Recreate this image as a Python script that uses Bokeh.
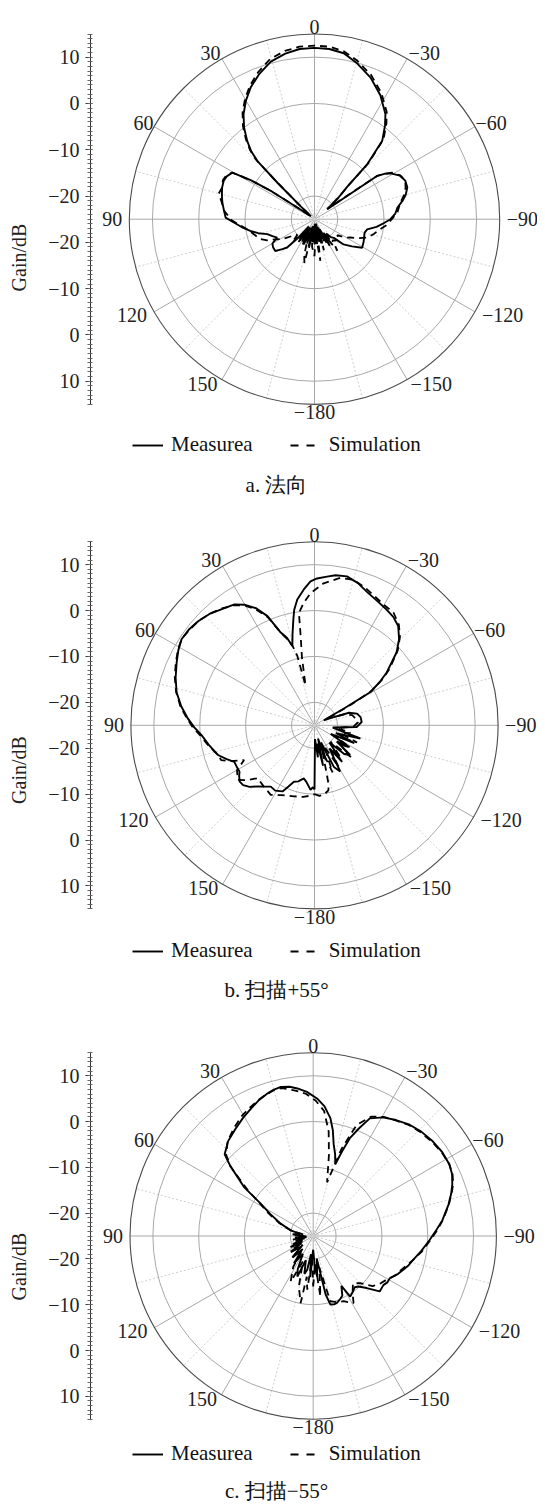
import numpy as np
from bokeh.plotting import figure
from bokeh.layouts import column
from bokeh.models import Range1d, FixedTicker, Legend, LegendItem, Label
from bokeh.core.properties import value
from bokeh.embed import file_html
from bokeh.resources import INLINE

# ---------------- data (angle in degrees, gain in dB) ----------------
A_MEAS_ANG = [-180, -177, -174, -171, -168, -165, -162, -159, -156, -153, -150, -147, -144, -141, -138, -134, -131, -126, -121, -115, -110, -105, -101, -97, -94, -90, -86, -82, -78, -75, -71, -67, -63, -59, -57, -55.4, -54.8, -52, -48, -45.2, -43.8, -40.8, -37, -34, -28, -21.6, -15, -10, -5, 0, 5, 10, 15.5, 21, 25.9, 30, 34, 37.5, 40.7, 43, 44.5, 45.5, 47, 50, 53, 55.5, 57, 58.5, 60.5, 64, 67, 71, 74, 77, 80, 84, 89, 93.7, 97, 100.4, 104, 107.6, 112, 116.3, 120, 124, 129, 133, 136, 139, 142, 145, 148, 151, 154, 157, 160, 163, 166, 169, 172, 175, 178, 180]
A_MEAS_DB = [-19.6, -24, -19.6, -23.5, -20, -24, -19.5, -23, -19.8, -22.5, -18.4, -21.5, -19.5, -21, -19.8, -19.2, -16.7, -15, -13, -13.3, -13.6, -13.8, -13.4, -11.5, -10.3, -8.6, -7.5, -6.9, -5.5, -4.6, -3.8, -3.7, -4.3, -5.8, -7, -8.5, -15, -21.5, -18, -15, -8.5, -2.6, 0.3, 2.4, 5.3, 7.9, 10.0, 11.4, 11.9, 12.0, 11.9, 11.3, 10.3, 8.5, 6.6, 4.6, 2.4, 0.0, -2.7, -5.0, -7.5, -14, -21, -24, -23.5, -21, -14, -9, -4.6, -3.9, -3.7, -3.9, -4.2, -4.5, -4.8, -5.3, -5.8, -8.2, -9.5, -10.9, -12.5, -14.3, -15.2, -16, -14.5, -14.2, -14.1, -15.5, -16.5, -20, -23, -19, -22.5, -19.5, -23, -19.1, -22, -19.5, -23.5, -18.7, -22.5, -20, -23.5, -19.6]

A_SIM_ANG = [-180, -176, -172, -168, -163, -158, -153, -148, -144, -140, -135, -130, -125, -120, -117, -113, -109, -104, -100, -95, -90, -85, -79, -75, -71, -67, -63, -59, -57, -55.4, -54.5, -51.5, -48, -45.2, -43.8, -40.8, -37, -34, -28, -21.6, -15, -10, -5, 0, 5, 10, 15.5, 21, 25.9, 30, 34, 37.5, 40.7, 43, 44.5, 45.5, 47, 50, 53, 55.5, 57, 58.5, 60.5, 64, 67, 71, 75, 79, 85, 91, 98.5, 104, 110, 114, 117, 122, 127, 132, 136.4, 140, 145, 150, 155, 160, 164, 167, 170, 175, 180]
A_SIM_DB = [-17, -22, -15.9, -22, -18, -23, -19, -21, -16.6, -19, -18.5, -18, -19, -17, -16.3, -14.5, -12.9, -11.8, -11, -9.5, -8.3, -7, -6.1, -5, -4.2, -3.7, -4.2, -5.5, -7, -8.5, -15, -21.5, -18, -14.8, -8, -2.2, 0.8, 2.9, 5.8, 8.4, 10.5, 11.8, 12.4, 12.5, 12.4, 11.9, 10.9, 9.0, 7.0, 5.0, 2.8, 0.4, -2.3, -4.6, -7, -14, -21, -24, -23.5, -21, -14, -9, -4.5, -3.7, -3.5, -3.9, -3.6, -4.5, -5.5, -7.2, -10.3, -11.5, -12.5, -13.8, -15.4, -17, -19, -20, -18, -21, -19, -22.5, -19, -21, -17, -15.3, -22, -19, -17]

B_MEAS_ANG = [-180, -178, -174, -171, -168, -165, -162, -159, -155, -150.9, -147, -143, -139, -134, -129.8, -126, -122, -118, -114, -110, -106, -102, -97, -92.3, -86, -80, -74.7, -70, -66, -61.7, -60.3, -59.3, -56.5, -53.8, -48.4, -44.5, -40.1, -36, -31.9, -27, -21.6, -17, -12.3, -8, -4.8, -1, 1.6, 4.5, 7.8, 10, 11.3, 13.5, 15.6, 17.5, 20, 23.3, 26.5, 30.2, 33.5, 37.5, 43, 48.2, 52.5, 57.1, 61, 65.5, 71, 76.5, 82, 87, 91, 95, 101, 107.1, 111, 114.5, 118, 121.7, 124, 127, 130, 133.5, 137, 141, 144.5, 149, 154.2, 157, 160, 164, 168.6, 172, 176.5, 178.5, 180]
B_MEAS_DB = [-11, -22, -18, -21, -16, -22, -17, -21, -15, -13.5, -19, -15, -20, -16, -14.9, -19, -16, -21, -15.5, -20, -14.6, -19, -21, -15.8, -14.7, -14.8, -15.4, -17, -21, -22.7, -17.7, -10.9, -8, -5.5, -1.1, 1.3, 3.3, 4.2, 4.7, 5.3, 6.2, 7.4, 8.2, 8.0, 7.5, 7.0, 6.35, 4.7, 2.65, 0.5, -1.5, -4.5, -7.05, -5.0, -3.5, 0.9, 3.5, 5.4, 6.6, 7.2, 8.3, 9.0, 9.4, 9.5, 8.9, 8.0, 7.0, 5.9, 4.3, 2.6, 1.2, -0.3, -1.7, -3.0, -4.5, -5.8, -5.8, -5.8, -5.2, -4.6, -4.7, -5.5, -6.8, -7.8, -8.6, -8.4, -9.0, -10.5, -11.9, -12.3, -13.2, -12.5, -10.9, -11.5, -11]

B_SIM_ANG = [-180, -176, -172.4, -168, -166.6, -163, -159, -155, -150, -146, -141, -136, -131, -127, -122, -117, -112, -107, -102, -97, -92, -86, -80, -75, -70, -65, -62, -60.5, -59, -56, -53, -48, -44, -40, -35, -30, -25, -20, -15, -9.9, -3.7, 1.7, 5, 7.9, 8.8, 10.5, 12.7, 13.9, 15.5, 18, 20, 23.3, 27, 30.2, 34, 38, 43, 48, 53, 57, 61, 65.5, 71, 76.5, 82, 87, 91, 95, 101, 107, 110.4, 113, 116.3, 120, 125.4, 129, 132.9, 140, 147.8, 155, 163.9, 171, 176, 180]
B_SIM_DB = [-10, -9.6, -9.7, -10.5, -11.7, -19, -14, -20, -14.5, -19, -16, -20, -14.5, -18, -16, -20, -15, -19, -17, -20, -16.5, -15.5, -16, -16.5, -18, -21, -21, -16, -10.5, -7.3, -4.5, -0.6, 1.8, 3.6, 5.0, 5.3, 6.0, 7.0, 7.8, 7.6, 6.0, 3.8, 1.8, -0.27, -5.3, -10, -16.1, -9.4, -7, -5, -3.5, 0.6, 3.4, 5.2, 6.5, 7.4, 8.3, 9.0, 9.3, 9.5, 9.0, 8.2, 7.2, 6.0, 4.5, 2.8, 1.5, 0, -1.5, -3.0, -3.3, -5, -7.9, -5.5, -4.5, -6, -8.1, -7.7, -7.1, -8.2, -8.9, -9.2, -9.6, -10]

C_MEAS_ANG = [-180, -177, -174.4, -171, -168, -166, -163, -160.4, -157, -154, -150.5, -148.6, -145, -141, -138.2, -134.2, -129.8, -125, -122, -118.9, -114, -110.7, -107, -103.6, -98, -92.1, -87, -83.1, -77, -73, -69.6, -66, -62.2, -57, -51.6, -46, -40.9, -35.5, -30.5, -25.7, -23, -20.6, -18.8, -17.1, -15, -12.6, -10.5, -8.3, -5, -1.6, 2.5, 6.1, 9, 12.2, 15, 17.7, 22, 25.9, 30.7, 36, 42, 47.3, 50, 52.2, 54.8, 58.4, 63, 69.2, 75.9, 80, 85, 90, 95, 100, 105, 110, 115.9, 121, 126, 131, 136, 141, 144.9, 150, 155, 158.7, 163, 167, 170, 173, 175.9, 178, 180]
C_MEAS_DB = [-22, -18, -16.1, -20, -12, -9.6, -9.4, -9.5, -10, -10.5, -12.5, -9.5, -10, -10.6, -10.2, -8.7, -6.1, -6.3, -5.9, -5.9, -4.7, -4.05, -3.2, -2.6, -1.2, 0.4, 2.0, 3.4, 5.3, 6.5, 7.4, 8.2, 8.6, 8.6, 8.3, 7.8, 7.15, 6.1, 5.05, 3.5, 0.5, -2.1, -5.5, -8.6, -6.5, -4.5, -1.5, 1.0, 3.4, 5.05, 6.5, 7.4, 8.0, 8.3, 8.1, 7.7, 6.9, 6.0, 5.0, 3.9, 2.8, 1.3, -1.5, -4.2, -6.6, -11.6, -14.5, -17.4, -19.9, -22, -20.5, -23, -21, -23.5, -21, -22.5, -19.5, -22, -19, -21.5, -18.5, -21, -17.7, -20.5, -17, -15.5, -19.5, -16.5, -17.5, -21, -16, -21, -22]

C_SIM_ANG = [-180, -176, -173.2, -169, -165.3, -160, -155, -149, -145, -140, -135.2, -130, -125, -121, -116, -110, -103.6, -98, -92, -87, -83, -77, -73, -69.6, -66, -62, -57, -51.6, -46, -40.9, -35.5, -30.5, -26, -21.4, -18, -14.5, -11, -8.4, -5, -1, 3, 7, 12, 15, 18, 22, 26, 30.7, 36, 42, 47, 50, 52.2, 55, 58.4, 63, 69, 76, 82, 88, 94, 100, 106, 112, 118, 124, 130, 136, 142, 147, 153.7, 158, 164.2, 169.4, 171, 173.7, 177, 180]
C_SIM_DB = [-14, -19, -11.7, -18, -10.3, -9.6, -9.3, -7.9, -10, -11.5, -10.5, -8, -7, -6.4, -5.2, -4.2, -2.6, -1.0, 0.6, 2.2, 3.5, 5.4, 6.6, 7.6, 8.3, 8.6, 8.5, 8.1, 7.6, 7.0, 6.0, 5.2, 4.0, 1.1, -5, -12.9, -7, -1.9, 2.4, 4.6, 6.1, 7.0, 8.0, 8.0, 7.6, 7.0, 6.3, 5.5, 4.3, 2.9, 1.0, -1.5, -4.6, -7.6, -11.2, -14, -17, -20, -23, -21, -23.5, -20.5, -23, -20, -22.5, -19, -22, -18.5, -21.5, -17, -13.9, -19, -13.5, -10.1, -16, -13.2, -20, -14]

RING_DB = [-20, -10, 0, 10]          # grid circles
OUTER_DB = 15                        # outer circle
CENTER_DB = -25                      # value at the centre
AXIS_TICK_DB = [10, 0, -10, -20]     # mirrored radial axis ticks
AXIS_TICK_LABELS = ["10", "0", "\u221210", "\u221220"]
ANGLE_TICKS = [0, 30, 60, 90, 120, 150, 180, -150, -120, -90, -60, -30]
ANGLE_TICK_LABELS = ["0", "30", "60", "90", "120", "150", "\u2212180", "\u2212150", "\u2212120", "\u221290", "\u221260", "\u221230"]
LEGEND_LABELS = ["Measurea", "Simulation"]
CAPTIONS = ["a. \u6cd5\u5411", "b. \u626b\u63cf+55\u00b0", "c. \u626b\u63cf\u221255\u00b0"]

for a_, b_ in [(A_MEAS_ANG, A_MEAS_DB), (A_SIM_ANG, A_SIM_DB), (B_MEAS_ANG, B_MEAS_DB),
               (B_SIM_ANG, B_SIM_DB), (C_MEAS_ANG, C_MEAS_DB), (C_SIM_ANG, C_SIM_DB)]:
    assert len(a_) == len(b_), (len(a_), len(b_))

# ---------------- styles ----------------
FONT = "Liberation Serif"
# angle-label placement: align, baseline, offset (px, up positive) from outer-circle point
LABEL_STYLE = {
    0: ("center", "alphabetic", 0, 7),
    30: ("right", "alphabetic", -1.5, 6),
    60: ("right", "middle", -0.5, 4),
    90: ("right", "middle", -7, 0),
    120: ("right", "middle", -7, -3),
    150: ("right", "top", -4.5, 3),
    180: ("center", "top", 0, -1),
    -150: ("left", "top", 3.5, 3),
    -120: ("left", "middle", 7, -3),
    -90: ("left", "middle", 7, 0),
    -60: ("left", "middle", 0.5, 4),
    -30: ("left", "alphabetic", 1.5, 6),
}

# page coordinates (Bokeh's page template has no body margin)
PANELS = [
    dict(meas=(A_MEAS_ANG, A_MEAS_DB), sim=(A_SIM_ANG, A_SIM_DB), cap=CAPTIONS[0],
         cx=314.0, cy=218.7, s=4.63, top=0, h=514, leg=229.0, capy=265.3),
    dict(meas=(B_MEAS_ANG, B_MEAS_DB), sim=(B_SIM_ANG, B_SIM_DB), cap=CAPTIONS[1],
         cx=314.0, cy=724.8, s=4.59, top=514, h=511, leg=229.0, capy=265.0),
    dict(meas=(C_MEAS_ANG, C_MEAS_DB), sim=(C_SIM_ANG, C_SIM_DB), cap=CAPTIONS[2],
         cx=312.7, cy=1235.5, s=4.58, top=1025, h=482, leg=221.0, capy=255.0),
]

FL, FR = 90, 537
CAP_X = 276.0
LEG_X = 132.0
LEG_H = 19.0


def to_xy(ang, db):
    ang = np.radians(np.asarray(ang, dtype=float))
    r = np.clip(np.asarray(db, dtype=float) - CENTER_DB, 0, None)
    return -r * np.sin(ang), r * np.cos(ang)


def make_panel(pn):
    s, cx, cy, top, h = pn["s"], pn["cx"], pn["cy"], pn["top"], pn["h"]
    p = figure(width=FR, height=h, output_backend="svg", toolbar_location=None,
               x_range=Range1d((FL - cx) / s, (FR - cx) / s),
               y_range=Range1d(-(top + h - cy) / s, (cy - top) / s),
               x_axis_location=None, y_axis_location="left",
               min_border_left=FL, min_border_right=0, min_border_top=0, min_border_bottom=0)
    p.grid.visible = False
    p.outline_line_color = None
    p.background_fill_color = "white"

    R = OUTER_DB - CENTER_DB
    # radial axis on the left, mirrored labels
    ax = p.yaxis[0]
    ticks, over = [], {}
    for db, lab in zip(AXIS_TICK_DB, AXIS_TICK_LABELS):
        t = db - CENTER_DB
        ticks += [t, -t]
        over[t] = lab
        over[-t] = lab
    ax.ticker = FixedTicker(ticks=ticks, minor_ticks=list(range(-int(R), int(R) + 1)))
    ax.major_label_overrides = over
    ax.bounds = (-R, R)
    ax.axis_label = "Gain/dB"
    ax.axis_label_text_font = FONT
    ax.axis_label_text_font_style = "normal"
    ax.axis_label_text_font_size = "20px"
    ax.axis_label_text_color = "#222222"
    ax.axis_label_standoff = 15
    ax.major_label_text_font = FONT
    ax.major_label_text_font_size = "20px"
    ax.major_label_text_color = "#222222"
    ax.major_label_standoff = 6
    ax.axis_line_color = "#333333"
    ax.major_tick_line_color = "#333333"
    ax.minor_tick_line_color = "#666666"
    ax.major_tick_out = 5
    ax.major_tick_in = 2
    ax.minor_tick_out = 3
    ax.minor_tick_in = 2

    # spokes
    sol = np.arange(0, 360, 30)
    dot = np.arange(15, 360, 30)
    x1, y1 = to_xy(sol, [OUTER_DB] * len(sol))
    p.segment(x0=[0] * len(sol), y0=[0] * len(sol), x1=x1, y1=y1, line_color="#a8a8a8", line_width=1)
    x1, y1 = to_xy(dot, [OUTER_DB] * len(dot))
    p.segment(x0=[0] * len(dot), y0=[0] * len(dot), x1=x1, y1=y1, line_color="#cfcfcf",
              line_width=1, line_dash="2 2")
    # rings
    p.circle(x=[0] * len(RING_DB), y=[0] * len(RING_DB), radius=[d - CENTER_DB for d in RING_DB],
             fill_color=None, line_color="#a8a8a8", line_width=1)
    p.circle(x=[0], y=[0], radius=[R], fill_color=None, line_color="#4a4a4a", line_width=1.1)

    # curves
    mx, my = to_xy(*pn["meas"])
    sx, sy = to_xy(*pn["sim"])
    p.line(sx, sy, line_color="black", line_width=1.8, line_dash="7 5")
    r_meas = p.line(mx, my, line_color="black", line_width=1.9)
    # legend swatch for the dashed series (one-point line: nothing drawn in the plot)
    r_sim_key = p.line(x=[0.0], y=[0.0], line_color="black", line_width=2.2, line_dash="8 8")

    # angle labels
    groups = {}
    for ang, lab in zip(ANGLE_TICKS, ANGLE_TICK_LABELS):
        al, bl, dx, dy = LABEL_STYLE[ang]
        px, py = to_xy([ang], [OUTER_DB])
        g = groups.setdefault((al, bl), ([], [], []))
        g[0].append(px[0] + dx / s)
        g[1].append(py[0] + dy / s)
        g[2].append(lab)
    for (al, bl), (xs, ys, ts) in groups.items():
        p.text(x=xs, y=ys, text=ts, text_align=al, text_baseline=bl,
               text_font=value(FONT), text_font_size="20px", text_color="#222222")

    # legend
    frame_bottom = top + h
    leg_center = cy + pn["leg"]
    legend = Legend(items=[LegendItem(label=LEGEND_LABELS[0], renderers=[r_meas]),
                           LegendItem(label=LEGEND_LABELS[1], renderers=[r_sim_key])],
                    orientation="horizontal",
                    location=(LEG_X - FL, frame_bottom - leg_center - LEG_H / 2),
                    glyph_width=31, glyph_height=20, label_standoff=8, spacing=37,
                    padding=0, margin=0, border_line_color=None, background_fill_alpha=0,
                    label_text_font=FONT, label_text_font_size="21px", label_height=20,
                    label_text_color="#111111")
    p.add_layout(legend)

    # caption
    p.add_layout(Label(x=(CAP_X - cx) / s, y=-pn["capy"] / s, text=pn["cap"],
                       text_align="center", text_baseline="middle",
                       text_font=FONT, text_font_size="21px", text_color="#111111"))
    return p


figs = [make_panel(pn) for pn in PANELS]
layout = column(*figs, spacing=0)
open("out.html", "w").write(file_html(layout, INLINE))
